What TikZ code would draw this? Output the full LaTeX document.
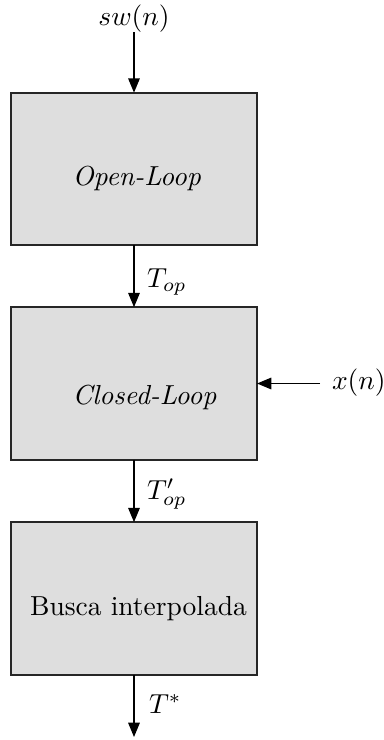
\documentclass[tikz,border=0pt]{standalone}
\usetikzlibrary{arrows.meta}
\definecolor{boxgray}{RGB}{222,222,222}
\begin{document}
\begin{tikzpicture}[x=0.3636pt,y=-0.3636pt,
  blockbox/.style={draw=black!85,line width=0.6pt,fill=boxgray,minimum width=89.45pt,minimum height=55.5pt,inner sep=0pt,outer sep=0pt},
  flow/.style={line width=0.5pt,-{Triangle[length=5.2pt,width=4.2pt]}},
  lbl/.style={inner sep=0pt,outer sep=0pt}]
\useasboundingbox (0,0) rectangle (384,740);
\node[blockbox] (b1) at (134,169) {};
\node[blockbox] (b2) at (134,383.5) {};
\node[blockbox] (b3) at (134,598.5) {};
\node[lbl,anchor=base] (t1) at (136.7,185) {\textit{Open-Loop}};
\node[lbl,anchor=base] (t2) at (144.5,404) {\textit{Closed-Loop}};
\node[lbl,anchor=base] (t3) at (138.5,615) {Busca interpolada};
\coordinate (in) at (134,32);
\coordinate (out) at (134,737);
\coordinate (xin) at (320,383.5);
\node[lbl] (sw) at (134,19) {$sw(n)$};
\node[lbl,anchor=west] (top) at (147,282) {$T_{op}$};
\node[lbl,anchor=west] (topp) at (147,494) {$T'_{op}$};
\node[lbl,anchor=west] (ts) at (149,704) {$T^{*}$};
\node[lbl,anchor=west] (xn) at (332,383) {$x(n)$};
\draw[flow] (in) -- (b1.north);
\draw[flow] (b1.south) -- (b2.north);
\draw[flow] (b2.south) -- (b3.north);
\draw[flow] (b3.south) -- (out);
\draw[flow] (xin) -- (b2.east);
\end{tikzpicture}
\end{document}
